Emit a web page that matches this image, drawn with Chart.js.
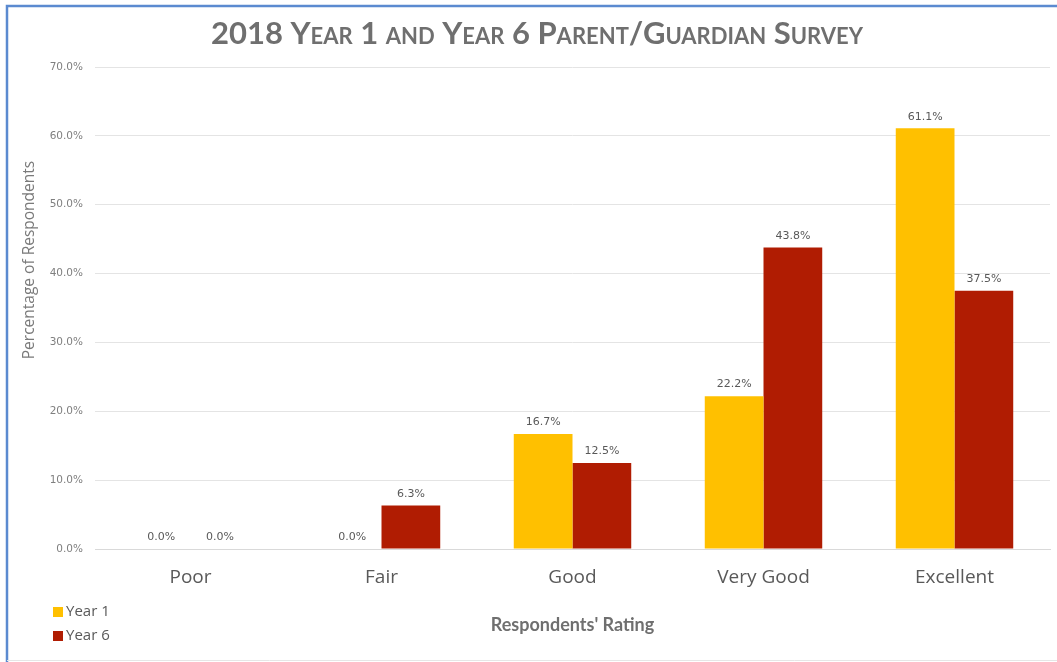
<!DOCTYPE html>
<html>
<head>
<meta charset="utf-8">
<script src="https://cdn.jsdelivr.net/npm/chart.js@4.4.1/dist/chart.umd.min.js"></script>
<style>
  html, body { margin: 0; padding: 0; background: #ffffff; }
  #wrap { position: relative; width: 1057px; height: 662px; }
</style>
</head>
<body>
<div id="wrap"><canvas id="chart" width="1057" height="662"></canvas></div>
<script>
// Survey ratings and the share of respondents (%) for each year group
const categories = ['Poor', 'Fair', 'Good', 'Very Good', 'Excellent'];
const year1 = [0.0, 0.0, 16.7, 22.2, 61.1];
const year6 = [0.0, 6.3, 12.5, 43.8, 37.5];
const seriesNames = ['Year 1', 'Year 6'];
const yTicks = [0, 10, 20, 30, 40, 50, 60, 70];

const COLOR_Y1 = '#FFC000';
const COLOR_Y6 = '#B01C02';
const TEXT = '#595959';

// Frame, title, axis titles, value labels and the stacked legend
const decor = {
  id: 'decor',
  beforeDraw(chart) {
    const ctx = chart.ctx;
    ctx.save();
    ctx.fillStyle = '#ffffff';
    ctx.fillRect(0, 0, chart.width, chart.height);
    ctx.strokeStyle = '#5B8AD0';
    ctx.lineWidth = 2.5;
    ctx.beginPath();
    ctx.moveTo(7, chart.height);
    ctx.lineTo(7, 6);
    ctx.lineTo(chart.width, 6);
    ctx.stroke();
    ctx.strokeStyle = '#e6e6e6';
    ctx.lineWidth = 1;
    ctx.beginPath();
    ctx.moveTo(7, 660.5);
    ctx.lineTo(chart.width, 660.5);
    ctx.stroke();
    ctx.restore();
  },
  afterDatasetsDraw(chart) {
    const ctx = chart.ctx;
    const area = chart.chartArea;
    ctx.save();

    // value labels above each bar
    ctx.font = '11px "DejaVu Sans"';
    ctx.fillStyle = TEXT;
    ctx.textAlign = 'center';
    ctx.textBaseline = 'bottom';
    chart.data.datasets.forEach((ds, i) => {
      chart.getDatasetMeta(i).data.forEach((bar, j) => {
        ctx.fillText(ds.data[j].toFixed(1) + '%', bar.x, bar.y - 6);
      });
    });

    // chart title in small caps
    ctx.font = 'bold 31px Lato';
    ctx.fontVariantCaps = 'small-caps';
    ctx.fillStyle = '#6f6f6f';
    ctx.textBaseline = 'middle';
    ctx.fillText('2018 Year 1 and Year 6 Parent/Guardian Survey', 537, 34);
    ctx.fontVariantCaps = 'normal';

    // x axis title
    ctx.font = 'bold 18px Lato';
    ctx.fillStyle = '#6f6f6f';
    ctx.fillText("Respondents' Rating", (area.left + area.right) / 2, 625);

    // y axis title
    ctx.save();
    ctx.translate(30, 260);
    ctx.rotate(-Math.PI / 2);
    ctx.font = '15.5px "Open Sans"';
    ctx.fillStyle = '#7a7a7a';
    ctx.fillText('Percentage of Respondents', 0, 0);
    ctx.restore();

    // legend, one entry per line
    ctx.textAlign = 'left';
    ctx.font = '15px "Open Sans"';
    chart.data.datasets.forEach((ds, i) => {
      const y = 612 + i * 24;
      ctx.fillStyle = ds.backgroundColor;
      ctx.fillRect(53, y - 5, 10, 10);
      ctx.fillStyle = TEXT;
      ctx.fillText(ds.label, 66, y);
    });
    ctx.restore();
  }
};

new Chart(document.getElementById('chart'), {
  type: 'bar',
  data: {
    labels: categories,
    datasets: [
      { label: seriesNames[0], data: year1, backgroundColor: COLOR_Y1 },
      { label: seriesNames[1], data: year6, backgroundColor: COLOR_Y6 }
    ]
  },
  options: {
    responsive: false,
    animation: false,
    devicePixelRatio: 1,
    layout: { padding: { top: 67, right: 7, bottom: 0, left: 0 } },
    datasets: { bar: { barPercentage: 1.0, categoryPercentage: 0.615 } },
    plugins: { legend: { display: false }, title: { display: false }, tooltip: { enabled: false } },
    scales: {
      x: {
        grid: { display: false, drawTicks: false },
        border: { display: true, color: '#d9d9d9' },
        ticks: { color: TEXT, font: { family: 'Open Sans', size: 19 }, padding: 17 },
        afterFit(scale) { scale.height = 113; }
      },
      y: {
        min: 0,
        max: 70,
        afterBuildTicks(scale) { scale.ticks = yTicks.map(v => ({ value: v })); },
        grid: { color: '#e4e4e4', drawTicks: false },
        border: { display: false },
        ticks: {
          color: '#7f7f7f',
          font: { family: 'DejaVu Sans', size: 10.5 },
          padding: 12,
          callback: v => v.toFixed(1) + '%'
        },
        afterFit(scale) { scale.width = 95; }
      }
    }
  },
  plugins: [decor]
});
</script>
</body>
</html>
